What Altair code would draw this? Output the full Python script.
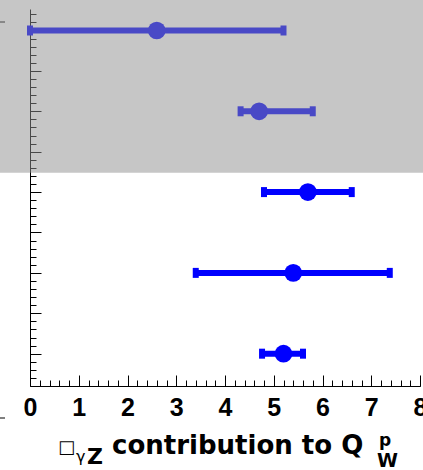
import altair as alt
import pandas as pd

# data
centers = [2.6, 4.7, 5.7, 5.4, 5.2]
lows = [0.0, 4.32, 4.8, 3.4, 4.76]
highs = [5.2, 5.8, 6.6, 7.38, 5.6]
rows = [44, 34, 24, 14, 4]

x_major = [0, 1, 2, 3, 4, 5, 6, 7, 8]
x_minor = [round(i * 0.2, 1) for i in range(41)]
y_major = [4, 9, 14, 19, 24, 29, 34, 39, 44]
y_minor = list(range(1, 47))

band_x = [-0.62, 8.1]
band_y = [26.4, 48.0]

W, H = 390, 377
XDOM = [0, 8]
YDOM = [0, 46.66]
FONT = "Liberation Sans"
TFONT = "DejaVu Sans"

df = pd.DataFrame({"c": centers, "lo": lows, "hi": highs, "row": rows})
dummy = pd.DataFrame({"x": [0], "y": [0]})
band = pd.DataFrame({"x": [band_x[0]], "x2": [band_x[1]], "y": [band_y[0]], "y2": [band_y[1]]})

xs = alt.Scale(domain=XDOM, nice=False, zero=False)
ys = alt.Scale(domain=YDOM, nice=False, zero=False)

# axis layers
lab_axes = alt.Chart(dummy).mark_point(opacity=0).encode(
    x=alt.X("x:Q", scale=xs, axis=alt.Axis(orient="bottom", values=x_major, ticks=False,
            domain=True, domainColor="black", domainWidth=1, labelFont=FONT,
            labelFontWeight="bold", labelFontSize=25, labelColor="black", labelPadding=9,
            grid=False, title=None, labelFlush=False, labelOverlap=False)),
    y=alt.Y("y:Q", scale=ys, axis=alt.Axis(orient="left", ticks=False, labels=False,
            domain=True, domainColor="black", domainWidth=1, grid=False, title=None)),
)

major_ticks = alt.Chart(dummy).mark_point(opacity=0).encode(
    x=alt.X("x:Q", scale=xs, axis=alt.Axis(orient="top", offset=-H, values=x_major,
            ticks=True, tickSize=11, tickColor="black", tickWidth=1, labels=False,
            domain=False, grid=False, title=None)),
    y=alt.Y("y:Q", scale=ys, axis=alt.Axis(orient="right", offset=-W, values=y_major,
            ticks=True, tickSize=11, tickColor="black", tickWidth=1, labels=False,
            domain=False, grid=False, title=None)),
)

minor_ticks = alt.Chart(dummy).mark_point(opacity=0).encode(
    x=alt.X("x:Q", scale=xs, axis=alt.Axis(orient="top", offset=-H, values=x_minor,
            ticks=True, tickSize=6, tickColor="black", tickWidth=1, labels=False,
            domain=False, grid=False, title=None)),
    y=alt.Y("y:Q", scale=ys, axis=alt.Axis(orient="right", offset=-W, values=y_minor,
            ticks=True, tickSize=6, tickColor="black", tickWidth=1, labels=False,
            domain=False, grid=False, title=None)),
)

noax_x = alt.Axis(labels=False, ticks=False, domain=False, grid=False, title=None)

bars = alt.Chart(df).mark_rule(color="#0000ff", strokeWidth=6).encode(
    x=alt.X("lo:Q", scale=xs, axis=noax_x), x2="hi:Q",
    y=alt.Y("row:Q", scale=ys, axis=noax_x),
)
cap_lo = alt.Chart(df).mark_tick(color="#0000ff", orient="vertical", size=10, thickness=6, opacity=1).encode(
    x=alt.X("lo:Q", scale=xs, axis=noax_x), y=alt.Y("row:Q", scale=ys, axis=noax_x))
cap_hi = alt.Chart(df).mark_tick(color="#0000ff", orient="vertical", size=10, thickness=6, opacity=1).encode(
    x=alt.X("hi:Q", scale=xs, axis=noax_x), y=alt.Y("row:Q", scale=ys, axis=noax_x))
pts = alt.Chart(df).mark_circle(color="#0000ff", size=314, opacity=1).encode(
    x=alt.X("c:Q", scale=xs, axis=noax_x), y=alt.Y("row:Q", scale=ys, axis=noax_x))

# small cut-off tick remnants at the left edge
stub_top = alt.Chart(dummy).mark_rule(color="black", strokeWidth=1).encode(
    x=alt.value(-30), x2=alt.value(-25), y=alt.value(13))
stub_bot = alt.Chart(dummy).mark_rule(color="black", strokeWidth=1).encode(
    x=alt.value(-30), x2=alt.value(-25), y=alt.value(409))

overlay = alt.Chart(band).mark_rect(color="rgb(144,144,144)", opacity=0.51, clip=False).encode(
    x=alt.X("x:Q", scale=xs, axis=noax_x), x2="x2:Q",
    y=alt.Y("y:Q", scale=ys, axis=noax_x), y2="y2:Q",
)

def txt(s, x, y, size, weight="bold", font=TFONT):
    return alt.Chart(dummy).mark_text(text=s, align="left", baseline="alphabetic",
                                      fontSize=size, fontWeight=weight, font=font,
                                      color="black").encode(x=alt.value(x), y=alt.value(y))

title_parts = [
    txt("□", 28, 444, 18, weight="normal"),
    txt("γ", 46, 453, 16, weight="normal"),
    txt("Z", 57, 455, 22),
    txt("contribution to Q", 82, 445, 26),
    txt("W", 347, 458, 19),
    txt("p", 349, 437, 17),
]

chart = alt.layer(lab_axes, major_ticks, minor_ticks, bars, cap_lo, cap_hi, pts,
                  stub_top, stub_bot, overlay,
                  *title_parts).resolve_axis(x="independent", y="independent").properties(
    width=W, height=H,
    autosize=alt.AutoSizeParams(type="none"),
    padding={"left": 30, "top": 9, "right": 3, "bottom": 84},
).configure_view(stroke=None)

chart.save("out.html", embed_options={"renderer": "svg", "actions": False})
